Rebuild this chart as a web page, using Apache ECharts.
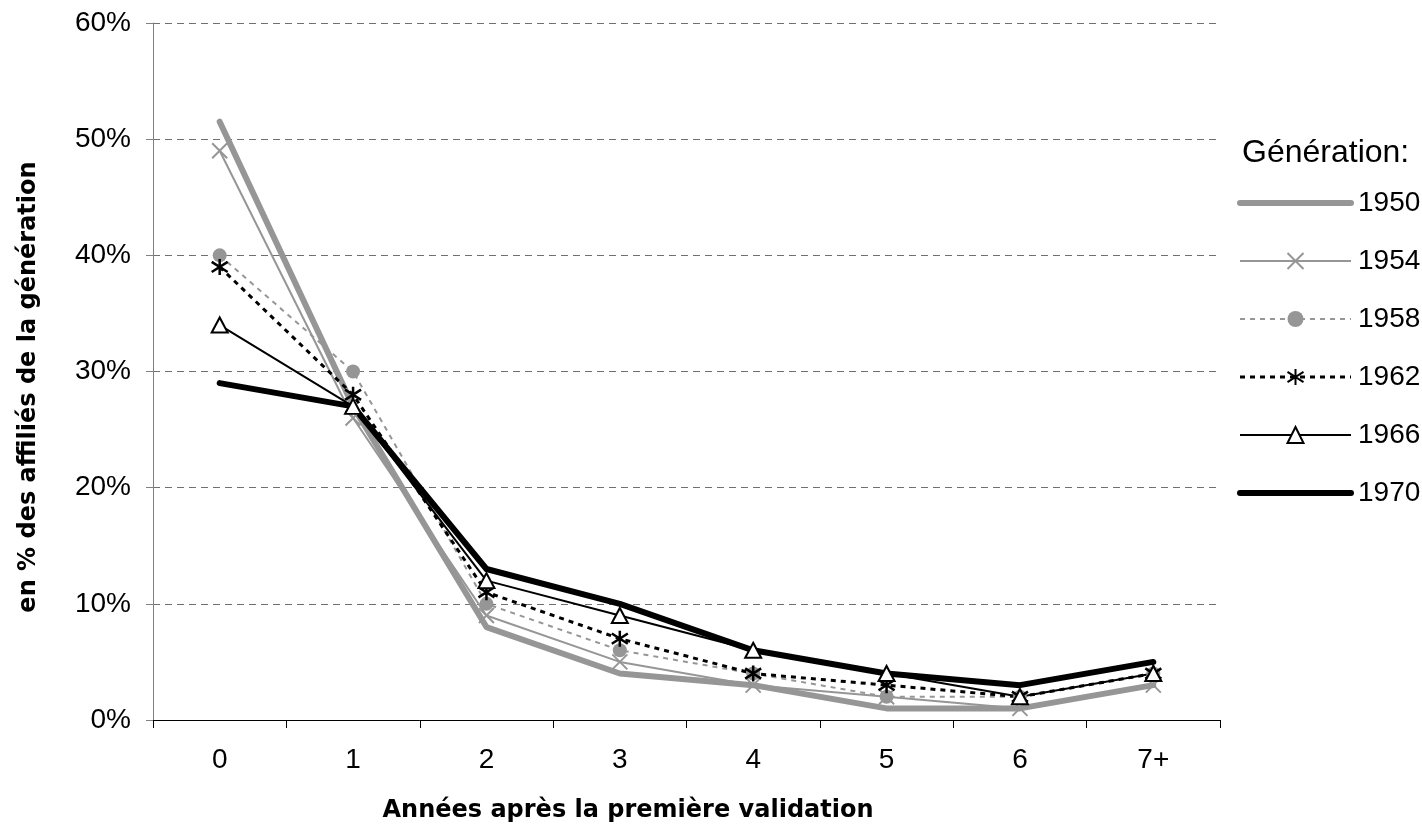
<!DOCTYPE html>
<html>
<head>
<meta charset="utf-8">
<script src="https://cdn.jsdelivr.net/npm/echarts@6/dist/echarts.min.js"></script>
<style>
html,body{margin:0;padding:0;background:#fff;}
#chart{width:1422px;height:830px;}
</style>
</head>
<body>
<div id="chart"></div>
<script>
const categories = ['0','1','2','3','4','5','6','7+'];
const yTicks = [0,10,20,30,40,50,60];
const seriesNames = ['1950','1954','1958','1962','1966','1970'];
const s1950 = [51.5,27,8,4,3,1,1,3];
const s1954 = [49,26,9,5,3,2,1,3];
const s1958 = [40,30,10,6,4,2,2,4];
const s1962 = [39,28,11,7,4,3,2,4];
const s1966 = [34,27,12,9,6,4,2,4];
const s1970 = [29,27,13,10,6,4,3,5];

const GRAY = '#969696';
const chart = echarts.init(document.getElementById('chart'), null, {renderer:'canvas'});
const font = '"Liberation Sans", Arial, sans-serif';

const option = {
  animation:false,
  backgroundColor:'#fff',
  grid:{left:153,right:202,top:23,bottom:110,containLabel:false},
  xAxis:{
    type:'category', data:categories, boundaryGap:true,
    axisLine:{show:true,lineStyle:{color:'#000',width:1}},
    axisTick:{show:true,length:8,inside:false,lineStyle:{color:'#000'}},
    axisLabel:{color:'#000',fontFamily:font,fontSize:28,margin:26},
    splitLine:{show:false}
  },
  yAxis:{
    type:'value', min:yTicks[0], max:yTicks[yTicks.length-1], interval:10,
    axisLine:{show:true,lineStyle:{color:'#808080',width:1}},
    axisTick:{show:true,length:7,lineStyle:{color:'#808080'}},
    axisLabel:{color:'#000',fontFamily:font,fontSize:28,margin:22,formatter:'{value}%'},
    splitLine:{show:true,lineStyle:{color:'#707070',type:[7,5],width:1}}
  },
  legend:{
    orient:'vertical', left:1232, top:184, padding:5,
    itemWidth:111, itemHeight:20, itemGap:30,
    lineStyle:{width:'inherit',type:'inherit',cap:'inherit'},
    textStyle:{color:'#000',fontFamily:font,fontSize:28,padding:[0,0,0,2]},
    data:seriesNames
  },
  graphic:[
    {type:'text', left:1242, top:137, style:{text:'Génération:', fontFamily:font, fontSize:32, fill:'#000'}},
    {type:'text', x:628, y:811, style:{text:'Années après la première validation', fontFamily:'"DejaVu Sans", sans-serif', fontWeight:'bold', fontSize:24, fill:'#000', align:'center', verticalAlign:'middle'}},
    {type:'text', x:29, y:387, rotation:Math.PI/2, style:{text:'en % des affiliés de la génération', fontFamily:'"DejaVu Sans", sans-serif', fontWeight:'bold', fontSize:24, fill:'#000', align:'center', verticalAlign:'middle'}}
  ],
  series:[
    {name:'1950', type:'line', data:s1950, symbol:'circle', showSymbol:false,
      lineStyle:{color:GRAY,width:6,cap:'round',join:'round'},
      itemStyle:{color:'rgba(0,0,0,0)',borderWidth:0}},
    {name:'1954', type:'line', data:s1954, symbol:'path://M0,0L10,10M10,0L0,10', symbolSize:15,
      lineStyle:{color:GRAY,width:2},
      itemStyle:{color:'rgba(0,0,0,0)',borderColor:GRAY,borderWidth:2}},
    {name:'1958', type:'line', data:s1958, symbol:'circle', symbolSize:14,
      lineStyle:{color:GRAY,width:2,type:[5,5]},
      itemStyle:{color:GRAY,borderWidth:0}},
    {name:'1962', type:'line', data:s1962, symbol:'path://M5,0L5,10M0,1.8L10,8.2M0,8.2L10,1.8', symbolSize:16,
      lineStyle:{color:'#000',width:3,type:[5,5]},
      itemStyle:{color:'rgba(0,0,0,0)',borderColor:'#000',borderWidth:2.5}},
    {name:'1966', type:'line', data:s1966, symbol:'triangle', symbolSize:[16,15],
      lineStyle:{color:'#000',width:2},
      itemStyle:{color:'#fff',borderColor:'#000',borderWidth:2}},
    {name:'1970', type:'line', data:s1970, symbol:'circle', showSymbol:false,
      lineStyle:{color:'#000',width:6,cap:'round',join:'round'},
      itemStyle:{color:'rgba(0,0,0,0)',borderWidth:0}}
  ]
};
chart.setOption(option);
</script>
</body>
</html>
